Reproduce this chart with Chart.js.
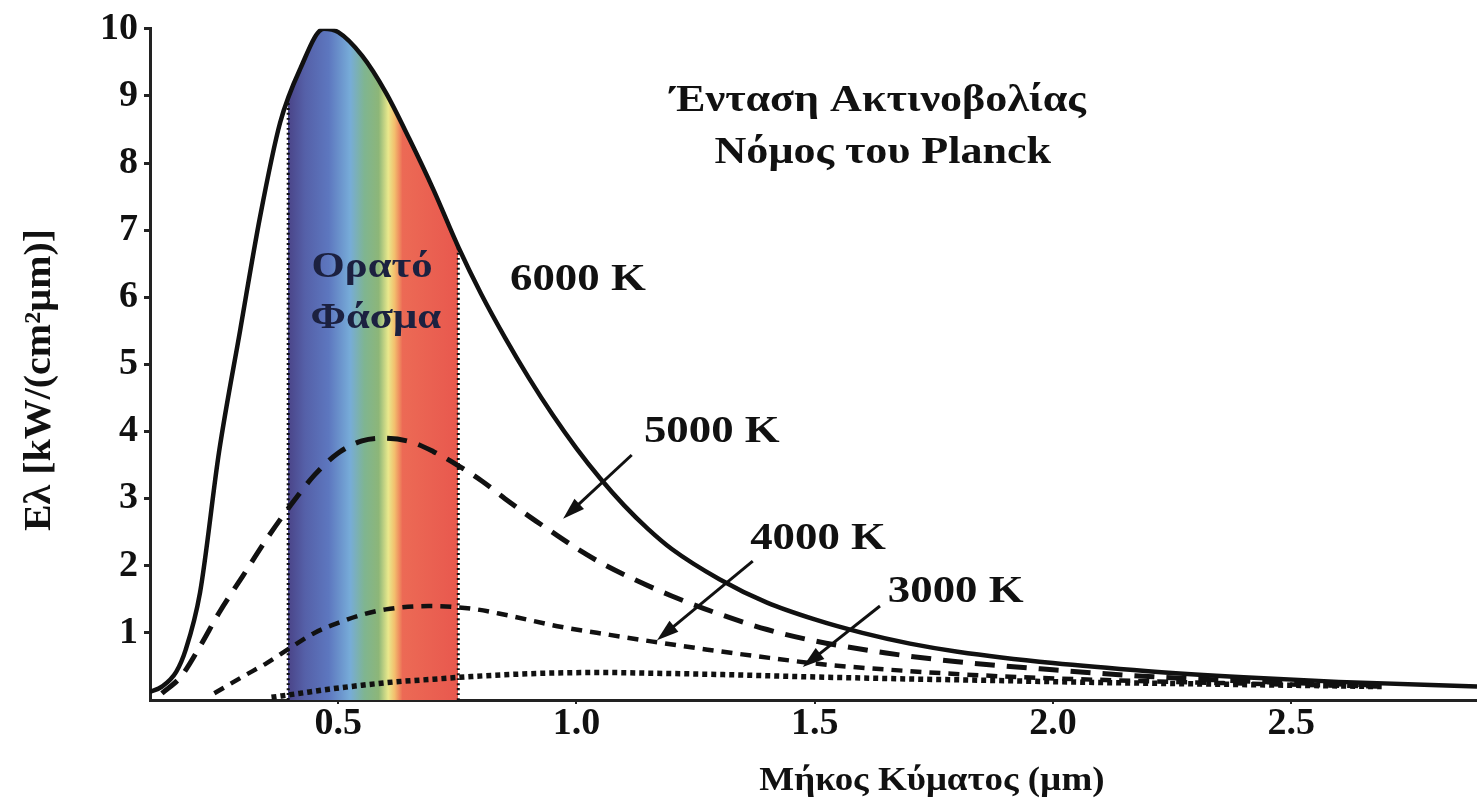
<!DOCTYPE html>
<html>
<head>
<meta charset="utf-8">
<script src="https://cdn.jsdelivr.net/npm/chart.js@4.4.1/dist/chart.umd.min.js"></script>
<style>
  html, body { margin: 0; padding: 0; background: #fff; }
  #wrap { width: 1477px; height: 810px; }
</style>
</head>
<body>
<div id="wrap"><canvas id="planck-chart" width="1477" height="810"></canvas></div>
<script>
// wavelength (µm) and intensity E (kW/(cm² µm)), one pair per curve
const wl6000 = [0.105, 0.13, 0.16, 0.18, 0.21, 0.25, 0.294, 0.336, 0.378, 0.42, 0.47, 0.50, 0.55, 0.60, 0.65, 0.70, 0.752, 0.80, 0.85, 0.90, 0.95, 1.00, 1.05, 1.10, 1.15, 1.20, 1.30, 1.40, 1.50, 1.60, 1.70, 1.80, 2.00, 2.20, 2.40, 2.60, 2.89];
const e6000  = [0.12, 0.2, 0.42, 0.75, 1.6, 3.7, 5.5, 7.2, 8.6, 9.4, 10.0, 9.95, 9.6, 9.05, 8.35, 7.6, 6.75, 6.05, 5.4, 4.8, 4.25, 3.75, 3.3, 2.9, 2.55, 2.25, 1.8, 1.45, 1.2, 1.0, 0.84, 0.72, 0.55, 0.43, 0.34, 0.27, 0.2];

const wl5000 = [0.13, 0.17, 0.21, 0.25, 0.30, 0.35, 0.40, 0.45, 0.50, 0.55, 0.59, 0.65, 0.70, 0.75, 0.80, 0.85, 0.90, 0.96, 1.00, 1.05, 1.12, 1.20, 1.30, 1.40, 1.50, 1.65, 1.80, 2.00, 2.20, 2.45, 2.69];
const e5000  = [0.1, 0.35, 0.8, 1.3, 1.85, 2.4, 2.9, 3.35, 3.68, 3.86, 3.9, 3.85, 3.7, 3.5, 3.27, 3.0, 2.74, 2.45, 2.26, 2.05, 1.8, 1.55, 1.28, 1.05, 0.88, 0.7, 0.57, 0.45, 0.35, 0.27, 0.22];

const wl4000 = [0.24, 0.30, 0.35, 0.40, 0.45, 0.50, 0.55, 0.60, 0.69, 0.78, 0.85, 0.96, 1.07, 1.16, 1.275, 1.38, 1.52, 1.70, 1.90, 2.20, 2.69];
const e4000  = [0.1, 0.35, 0.55, 0.78, 1.0, 1.15, 1.27, 1.35, 1.4, 1.36, 1.27, 1.1, 0.97, 0.87, 0.75, 0.65, 0.53, 0.43, 0.35, 0.28, 0.2];

const wl3000 = [0.36, 0.42, 0.48, 0.55, 0.62, 0.70, 0.78, 0.86, 0.94, 1.05, 1.15, 1.30, 1.46, 1.65, 1.88, 2.10, 2.30, 2.69];
const e3000  = [0.04, 0.1, 0.16, 0.22, 0.27, 0.31, 0.35, 0.38, 0.40, 0.41, 0.40, 0.38, 0.35, 0.32, 0.29, 0.26, 0.24, 0.2];

// visible band edges (µm) and the curve height where the dotted edge lines stop
const visibleBand = [0.395, 0.752];
const bandEdgeTop = [8.9, 6.75];

const xTicks = [0.5, 1.0, 1.5, 2.0, 2.5];
const yTicks = [1, 2, 3, 4, 5, 6, 7, 8, 9, 10];

const curveLabels = ['6000 K', '5000 K', '4000 K', '3000 K'];
const curveLabelX = [1.003, 1.284, 1.507, 1.796];
const curveLabelY = [6.25, 3.99, 2.39, 1.61];
// arrows: [tail x, tail y, head x, head y] in data units
const arrows = [
  [1.116, 3.65, 0.972, 2.70],
  [1.370, 2.07, 1.169, 0.89],
  [1.637, 1.40, 1.475, 0.49]
];

const titleLines = ['Ένταση Ακτινοβολίας', 'Νόμος του Planck'];
const bandLabel = ['Ορατό', 'Φάσμα'];
const xTitle = 'Μήκος Κύματος (µm)';
const yTitle = 'Eλ [kW/(cm²µm)]';

// colours across the visible band, left to right
const spectrumStops = [
  [0.395, '#4a4488'], [0.43, '#5560a8'], [0.48, '#5d77bf'], [0.525, '#77acd8'],
  [0.555, '#7fb591'], [0.585, '#8db678'], [0.605, '#e9e88c'], [0.618, '#f3c06e'],
  [0.635, '#ec6a55'], [0.752, '#e8584e']
];

const serif = "'Liberation Serif', 'DejaVu Serif', serif";
const toPoints = (xs, ys) => xs.map((x, i) => ({ x: x, y: ys[i] }));

function spectrumFill(context) {
  const chart = context.chart;
  const area = chart.chartArea;
  if (!area) return 'rgba(255,255,255,0)';
  const xScale = chart.scales.x;
  const frac = v => Math.min(1, Math.max(0, (xScale.getPixelForValue(v) - area.left) / (area.right - area.left)));
  const g = chart.ctx.createLinearGradient(area.left, 0, area.right, 0);
  g.addColorStop(0, 'rgba(255,255,255,0)');
  g.addColorStop(frac(visibleBand[0]), 'rgba(255,255,255,0)');
  for (let [w, c] of spectrumStops) g.addColorStop(frac(w), c);
  g.addColorStop(frac(visibleBand[1]), 'rgba(255,255,255,0)');
  g.addColorStop(1, 'rgba(255,255,255,0)');
  return g;
}

function drawText(ctx, text, px, py, size, color, stretch) {
  ctx.save();
  ctx.translate(px, py);
  ctx.scale(stretch, 1);
  ctx.font = `bold ${size}px ${serif}`;
  ctx.fillStyle = color;
  ctx.textAlign = 'center';
  ctx.textBaseline = 'middle';
  ctx.fillText(text, 0, 0);
  ctx.restore();
}

const notesPlugin = {
  id: 'planckNotes',
  afterDatasetsDraw(chart) {
    const { ctx, scales: { x, y } } = chart;

    drawText(ctx, bandLabel[0], x.getPixelForValue(0.571), y.getPixelForValue(6.44), 35, '#1c2140', 1.22);
    drawText(ctx, bandLabel[1], x.getPixelForValue(0.579), y.getPixelForValue(5.67), 35, '#1c2140', 1.22);

    curveLabels.forEach((t, i) => {
      drawText(ctx, t, x.getPixelForValue(curveLabelX[i]), y.getPixelForValue(curveLabelY[i]), 38, '#111', 1.18);
    });

    drawText(ctx, titleLines[0], x.getPixelForValue(1.633), y.getPixelForValue(8.92), 38, '#111', 1.16);
    drawText(ctx, titleLines[1], x.getPixelForValue(1.643), y.getPixelForValue(8.14), 38, '#111', 1.16);

    ctx.save();
    ctx.strokeStyle = '#111';
    ctx.fillStyle = '#111';
    ctx.lineWidth = 3;
    for (let a of arrows) {
      const x0 = x.getPixelForValue(a[0]), y0 = y.getPixelForValue(a[1]);
      const x1 = x.getPixelForValue(a[2]), y1 = y.getPixelForValue(a[3]);
      const ang = Math.atan2(y1 - y0, x1 - x0);
      ctx.beginPath();
      ctx.moveTo(x0, y0);
      ctx.lineTo(x1 - 12 * Math.cos(ang), y1 - 12 * Math.sin(ang));
      ctx.stroke();
      ctx.beginPath();
      ctx.moveTo(x1, y1);
      ctx.lineTo(x1 - 22 * Math.cos(ang) + 7 * Math.sin(ang), y1 - 22 * Math.sin(ang) - 7 * Math.cos(ang));
      ctx.lineTo(x1 - 22 * Math.cos(ang) - 7 * Math.sin(ang), y1 - 22 * Math.sin(ang) + 7 * Math.cos(ang));
      ctx.closePath();
      ctx.fill();
    }
    ctx.restore();
  },
  afterDraw(chart) {
    const { ctx, scales: { x } } = chart;
    drawText(ctx, xTitle, x.getPixelForValue(1.746), 781, 33, '#111', 1.12);
    ctx.save();
    ctx.translate(40, 380);
    ctx.rotate(-Math.PI / 2);
    drawText(ctx, yTitle, 0, 0, 37, '#111', 1.08);
    ctx.restore();
  }
};

const curveStyle = { pointRadius: 0, borderColor: '#111', tension: 0.4, cubicInterpolationMode: 'monotone', fill: false };

new Chart(document.getElementById('planck-chart'), {
  type: 'line',
  data: {
    datasets: [
      { ...curveStyle, label: '6000 K', data: toPoints(wl6000, e6000), borderWidth: 4.5, fill: 'origin', backgroundColor: spectrumFill },
      { ...curveStyle, label: '5000 K', data: toPoints(wl5000, e5000), borderWidth: 5, borderDash: [20, 12] },
      { ...curveStyle, label: '4000 K', data: toPoints(wl4000, e4000), borderWidth: 4.5, borderDash: [11, 8] },
      { ...curveStyle, label: '3000 K', data: toPoints(wl3000, e3000), borderWidth: 5.5, borderDash: [5, 4] },
      { ...curveStyle, label: 'band left', data: toPoints([visibleBand[0], visibleBand[0]], [0, bandEdgeTop[0]]), borderWidth: 3, borderDash: [2, 3], tension: 0 },
      { ...curveStyle, label: 'band right', data: toPoints([visibleBand[1], visibleBand[1]], [0, bandEdgeTop[1]]), borderWidth: 3, borderDash: [2, 3], tension: 0 }
    ]
  },
  options: {
    responsive: false,
    animation: false,
    devicePixelRatio: 1,
    layout: { padding: { top: 23, right: 0, left: 0, bottom: 0 } },
    plugins: {
      legend: { display: false },
      tooltip: { enabled: false },
      filler: { drawTime: 'beforeDatasetsDraw' }
    },
    scales: {
      x: {
        type: 'linear',
        min: 0.105,
        max: 2.89,
        afterFit: s => { s.height = 110; },
        afterBuildTicks: s => { s.ticks = xTicks.map(v => ({ value: v })); },
        border: { display: true, color: '#222', width: 3 },
        grid: { drawOnChartArea: false, drawTicks: true, tickLength: 4, color: '#222', lineWidth: 2 },
        ticks: {
          padding: -3,
          color: '#111',
          font: { family: serif, size: 38, weight: 'bold' },
          callback: v => v.toFixed(1)
        }
      },
      y: {
        type: 'linear',
        min: 0,
        max: 10,
        afterFit: s => { s.width = 150; },
        afterBuildTicks: s => { s.ticks = yTicks.map(v => ({ value: v })); },
        border: { display: true, color: '#222', width: 3 },
        grid: { drawOnChartArea: false, drawTicks: true, tickLength: 6, color: '#222', lineWidth: 3 },
        ticks: {
          padding: 6,
          color: '#111',
          font: { family: serif, size: 38, weight: 'bold' },
          callback: v => String(v)
        }
      }
    }
  },
  plugins: [notesPlugin]
});
</script>
</body>
</html>
